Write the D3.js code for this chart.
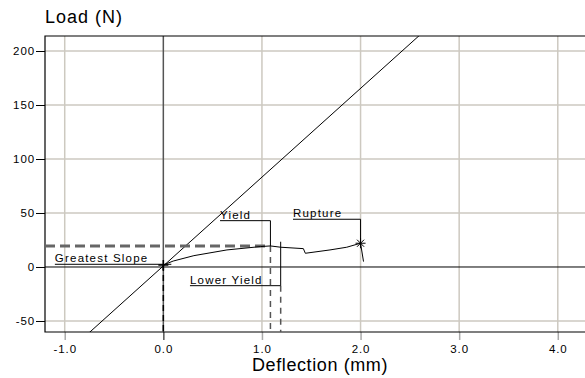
<!DOCTYPE html>
<html>
<head>
<meta charset="utf-8">
<script src="https://cdn.jsdelivr.net/npm/d3@7"></script>
<style>
	body { margin: 0; background: #fff; }
	svg { display: block; font-family: "Liberation Sans", Arial, sans-serif; }
</style>
</head>
<body>
<div id="chart"></div>
<script>
// x ticks / y ticks
const xTicks = [-1, 0, 1, 2, 3, 4];
const yTicks = [-50, 0, 50, 100, 150, 200];

// load-deflection curve
const deflection = [0, 0.1, 0.31, 0.645, 0.985, 1.086, 1.19, 1.42, 1.44, 1.69, 1.86, 2.0, 2.03];
const load = [1.9, 5.5, 10.5, 15.8, 18.9, 19.5, 18.3, 17, 12.7, 15.8, 18.3, 22, 5];

// greatest slope line: load = slope * deflection + intercept
const slope = 82.2;
const intercept = 1;

// annotations: label, point on curve, where the label underline sits (data units)
const annLabels = ["Greatest Slope", "Yield", "Lower Yield", "Rupture"];
const annPointX = [0, 1.086, 1.19, 2.0];
const annPointY = [1.9, 19.5, 23.4, 22];
const annLabelX = [-1.1, 0.575, 0.27, 1.315];
const annLabelY = [2.5, 42.9, -17.3, 44.2];

const width = 585;
const height = 378;
const marginLeft = 45;
const marginTop = 36;
const plotBottom = 332;

const x = d3.scaleLinear().domain([-1.2, 4.276]).range([marginLeft, width]);
const y = d3.scaleLinear().domain([-60.2, 213.9]).range([plotBottom, marginTop]);

const svg = d3.select("#chart").append("svg")
	.attr("width", width)
	.attr("height", height);

svg.append("clipPath").attr("id", "clip")
	.append("rect")
	.attr("x", marginLeft).attr("y", marginTop)
	.attr("width", width - marginLeft).attr("height", plotBottom - marginTop);

const grid = "#cdc9c0";
const hyphen = (f) => (d) => f(d).replace("\u2212", "-");

// grid
svg.append("g").selectAll("line").data(xTicks.filter((d) => d !== 0)).join("line")
	.attr("x1", (d) => x(d)).attr("x2", (d) => x(d))
	.attr("y1", marginTop).attr("y2", plotBottom)
	.attr("stroke", grid).attr("stroke-width", 1.5);
svg.append("g").selectAll("line").data(yTicks.filter((d) => d !== 0)).join("line")
	.attr("x1", marginLeft).attr("x2", width)
	.attr("y1", (d) => y(d)).attr("y2", (d) => y(d))
	.attr("stroke", grid).attr("stroke-width", 1.5);

// zero lines
svg.append("line")
	.attr("x1", x(0)).attr("x2", x(0)).attr("y1", marginTop).attr("y2", plotBottom)
	.attr("stroke", "#555").attr("stroke-width", 1.5);
svg.append("line")
	.attr("x1", marginLeft).attr("x2", width).attr("y1", y(0)).attr("y2", y(0))
	.attr("stroke", "#000").attr("stroke-width", 1);

// axes
const yAxis = svg.append("g")
	.attr("transform", `translate(${marginLeft},0)`)
	.call(d3.axisLeft(y).tickValues(yTicks).tickSize(9).tickPadding(1).tickFormat(hyphen(d3.format("d"))));
const xAxis = svg.append("g")
	.attr("transform", `translate(0,${plotBottom})`)
	.call(d3.axisBottom(x).tickValues(xTicks).tickSize(8).tickPadding(5).tickFormat(hyphen(d3.format(".1f"))));
[yAxis, xAxis].forEach((g) => {
	g.select(".domain").remove();
	g.selectAll("text").attr("font-size", 11.5).attr("fill", "#000")
		.attr("letter-spacing", 0.9)
		.attr("font-family", "Liberation Sans, Arial, sans-serif");
});
yAxis.selectAll("line").attr("stroke", "#000");
xAxis.selectAll("line").attr("stroke", (d) => d === 0 ? "#555" : "#aaa").attr("stroke-width", 1.5);

// plot frame (top, left, bottom)
svg.append("path")
	.attr("d", `M${width},${marginTop}H${marginLeft}V${plotBottom}H${width}`)
	.attr("fill", "none").attr("stroke", "#000").attr("stroke-width", 1.2);

const plot = svg.append("g").attr("clip-path", "url(#clip)");

// greatest slope line
const xs = x.domain();
plot.append("line")
	.attr("x1", x(xs[0])).attr("y1", y(slope * xs[0] + intercept))
	.attr("x2", x(xs[1])).attr("y2", y(slope * xs[1] + intercept))
	.attr("stroke", "#000").attr("stroke-width", 1);

// dashed helpers
plot.append("line")
	.attr("x1", marginLeft).attr("x2", x(annPointX[1]))
	.attr("y1", y(annPointY[1])).attr("y2", y(annPointY[1]))
	.attr("stroke", "#666").attr("stroke-width", 3).attr("stroke-dasharray", "10,5");
plot.append("line")
	.attr("x1", x(0)).attr("x2", x(0)).attr("y1", y(load[0])).attr("y2", plotBottom)
	.attr("stroke", "#000").attr("stroke-width", 1.5).attr("stroke-dasharray", "6,4");
plot.append("line")
	.attr("x1", x(annPointX[1])).attr("x2", x(annPointX[1]))
	.attr("y1", y(annPointY[1])).attr("y2", plotBottom)
	.attr("stroke", "#555").attr("stroke-width", 1.5).attr("stroke-dasharray", "6,5");
plot.append("line")
	.attr("x1", x(annPointX[2])).attr("x2", x(annPointX[2]))
	.attr("y1", y(annLabelY[2])).attr("y2", plotBottom)
	.attr("stroke", "#555").attr("stroke-width", 1.5).attr("stroke-dasharray", "6,5");

// curve
const curve = deflection.map((d, i) => [d, load[i]]);
plot.append("path")
	.datum(curve)
	.attr("fill", "none").attr("stroke", "#000").attr("stroke-width", 1)
	.attr("d", d3.line().x((d) => x(d[0])).y((d) => y(d[1])));

// markers: + at origin, asterisk at rupture
const ox = x(deflection[0]), oy = y(load[0]);
plot.append("path")
	.attr("d", `M${ox - 5},${oy}H${ox + 5}M${ox},${oy - 5}V${oy + 5}`)
	.attr("stroke", "#000").attr("stroke-width", 1.5);
const rx = x(annPointX[3]), ry = y(annPointY[3]);
plot.append("path")
	.attr("d", d3.range(4).map((i) => {
		const a = i * Math.PI / 4, r = 5;
		return `M${rx - r * Math.cos(a)},${ry - r * Math.sin(a)}L${rx + r * Math.cos(a)},${ry + r * Math.sin(a)}`;
	}).join(""))
	.attr("stroke", "#000").attr("stroke-width", 1);

// annotations
annLabels.forEach((label, i) => {
	const g = svg.append("g");
	const lx = x(annLabelX[i]), ly = y(annLabelY[i]);
	g.append("text")
		.attr("x", lx).attr("y", ly - 2)
		.attr("font-size", 11.5).attr("letter-spacing", 1.2).attr("fill", "#000")
		.text(label);
	const px = x(annPointX[i]), py = y(annPointY[i]);
	g.append("path")
		.attr("d", i === 0
			? `M${lx},${ly}H${px + 8}`
			: `M${lx},${ly}H${px}V${py}`)
		.attr("fill", "none").attr("stroke", "#000").attr("stroke-width", 1);
});

// axis titles
svg.append("text")
	.attr("x", marginLeft).attr("y", 23)
	.attr("font-size", 18).attr("letter-spacing", 1).attr("fill", "#000")
	.text("Load (N)");
svg.append("text")
	.attr("x", 320).attr("y", 371)
	.attr("text-anchor", "middle")
	.attr("font-size", 18).attr("letter-spacing", 0.6).attr("fill", "#000")
	.text("Deflection (mm)");
</script>
</body>
</html>
